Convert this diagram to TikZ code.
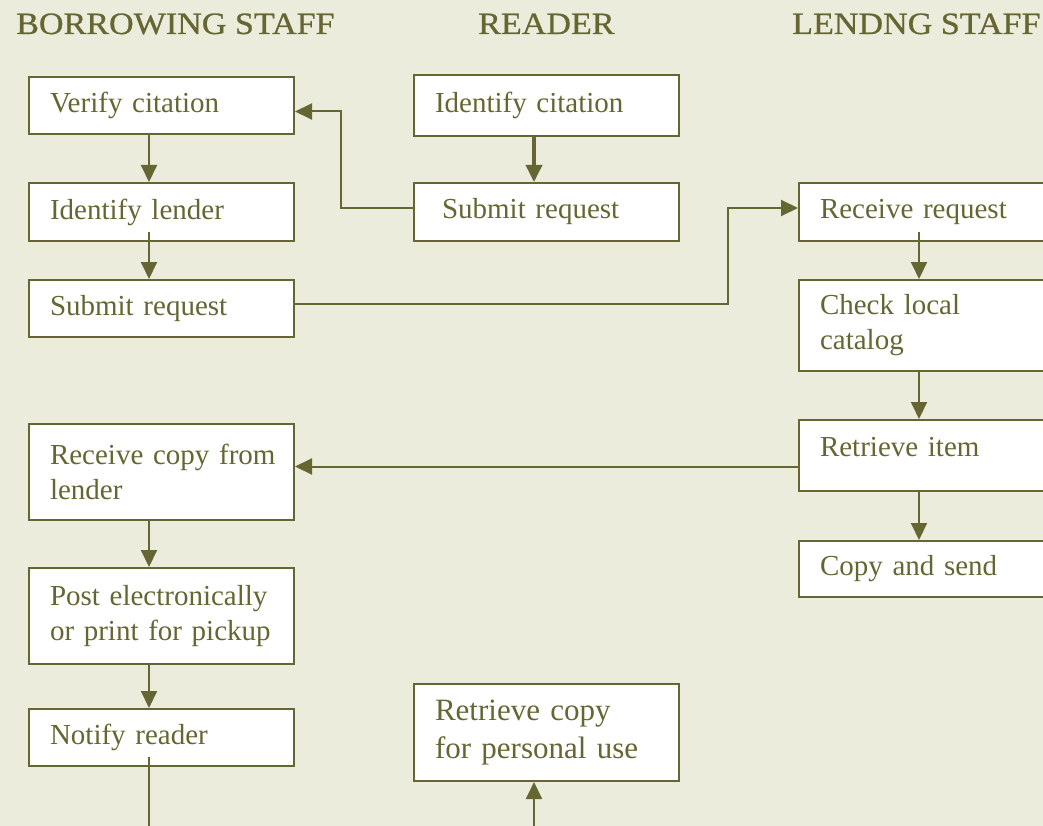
\documentclass[tikz,border=0pt]{standalone}
\usepackage{fontspec}
\setmainfont{Liberation Serif}
\newfontfamily\titlefont[FakeStretch=1.1,FakeBold=0.8]{Liberation Serif}
\usepackage{xcolor}
\usetikzlibrary{arrows.meta}
\definecolor{bgColor}{RGB}{236, 236, 220}
\definecolor{oliveColor}{RGB}{102, 102, 51}

\begin{document}
\begin{tikzpicture}[x=1pt, y=1pt,
    stepbox/.style={draw=oliveColor, fill=white, line width=2pt, anchor=north west,
      minimum width=265pt, inner xsep=21pt, inner ysep=0pt, text width=223pt, align=left,
      text=oliveColor, font=\fontsize{29}{35}\selectfont},
    lane/.style={anchor=base west, text=oliveColor, inner sep=0pt, font=\titlefont\fontsize{31}{31}\selectfont},
    arr/.style={draw=oliveColor, line width=2pt, -{Triangle[width=16pt,length=17pt]}}]
  \useasboundingbox (0,0) rectangle (1043,-826);
  \clip (0,0) rectangle (1043,-826);
  \fill[bgColor] (0,0) rectangle (1043,-826);

  % lane titles
  \node[lane] (tborrow) at (16,-34) {BORROWING STAFF};
  \node[lane] (treader) at (478,-34) {READER};
  \node[lane] (tlend) at (792,-34) {LENDNG STAFF};

  % borrowing staff
  \node[stepbox, minimum height=57pt] (verify) at (28,-76) {Verify citation};
  \node[stepbox, minimum height=58pt] (lender) at (28,-182) {Identify lender};
  \node[stepbox, minimum height=57pt] (subB) at (28,-279) {Submit request};
  \node[stepbox, minimum height=96pt] (rcopy) at (28,-423) {\mbox{Receive copy from}\\lender};
  \node[stepbox, minimum height=96pt] (post) at (28,-567) {\mbox{Post electronically}\\\mbox{or print for pickup}};
  \node[stepbox, minimum height=57pt] (notify) at (28,-708) {Notify reader};

  % reader
  \node[stepbox, minimum height=61pt] (idcit) at (413,-74) {Identify citation};
  \node[stepbox, minimum height=58pt] (subR) at (413,-182) {\hspace*{7pt}Submit request};
  \node[stepbox, minimum height=97pt, font=\fontsize{31}{38}\selectfont] (pcopy) at (413,-683) {Retrieve copy\\for personal use};

  % lending staff
  \node[stepbox, minimum height=58pt] (recv) at (798,-182) {Receive request};
  \node[stepbox, minimum height=91pt] (check) at (798,-279) {Check local\\catalog};
  \node[stepbox, text height=36pt, text depth=35pt] (retr) at (798,-419) {Retrieve item};
  \node[stepbox, minimum height=56pt] (send) at (798,-540) {Copy and send};

  % connectors
  \draw[arr] ([xshift=-12.5pt]verify.south) -- ([xshift=-12.5pt]lender.north);
  \draw[arr] ([xshift=-12.5pt,yshift=10pt]lender.south) -- ([xshift=-12.5pt]subB.north);
  \draw[arr] ([xshift=-12.5pt]rcopy.south) -- ([xshift=-12.5pt]post.north);
  \draw[arr] ([xshift=-12.5pt]post.south) -- ([xshift=-12.5pt]notify.north);
  \draw[arr, line width=3.6pt] ([xshift=-12.5pt]idcit.south) -- ([xshift=-12.5pt]subR.north);
  \draw[arr] ([yshift=4pt]subR.west) -- ++(-72,0) |- ([yshift=-6pt]verify.east);
  \draw[arr] ([yshift=5pt]subB.east) -- ++(433,0) |- ([yshift=4pt]recv.west);
  \draw[arr] ([xshift=-12.5pt,yshift=10pt]recv.south) -- ([xshift=-12.5pt]check.north);
  \draw[arr] ([xshift=-12.5pt]check.south) -- ([xshift=-12.5pt]retr.north);
  \draw[arr] ([xshift=-12.5pt]retr.south) -- ([xshift=-12.5pt]send.north);
  \draw[arr] ([yshift=-11pt]retr.west) -- ([yshift=-11pt]retr.west -| rcopy.east);
  \draw[arr] ([xshift=-12.5pt,yshift=10pt]notify.south) -- ++(0,-90) -| ([xshift=-12.5pt]pcopy.south);
\end{tikzpicture}
\end{document}
